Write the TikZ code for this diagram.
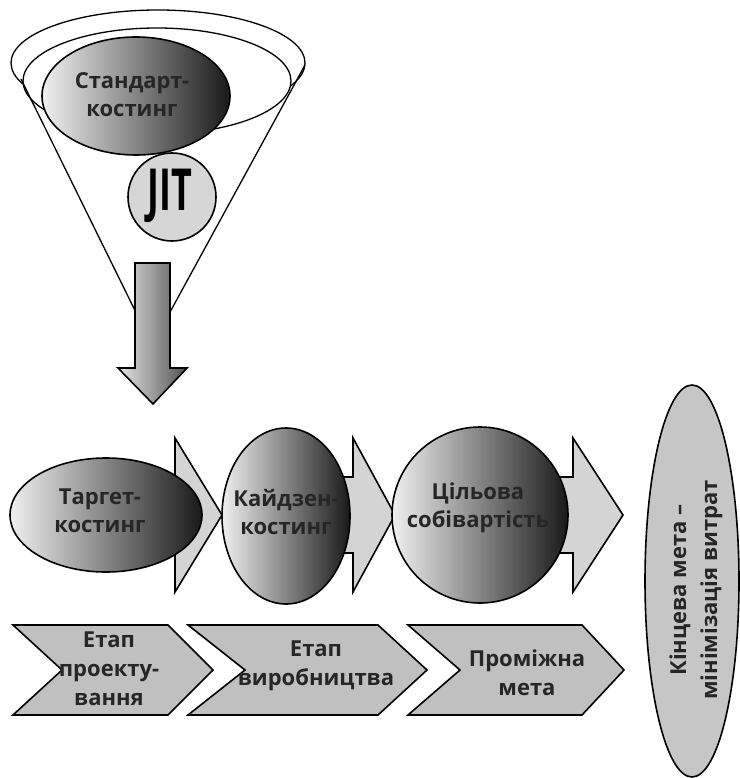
\documentclass[tikz,border=0pt]{standalone}
\usepackage{fontspec}
\usepackage{graphicx}
\setmainfont{Open Sans}
\usetikzlibrary{shapes.geometric}
\definecolor{txt}{HTML}{262626}
\definecolor{chev}{HTML}{C0C0C0}
\definecolor{arr}{HTML}{D4D4D4}
\definecolor{goal}{HTML}{C6C6C6}
\definecolor{jitc}{HTML}{D6D6D6}
\begin{document}
\begin{tikzpicture}[x=1pt,y=-1pt,
  lbl/.style={font=\fontsize{22}{28}\selectfont\bfseries, text=txt, align=center, inner sep=0pt},
  outl/.style={draw=black, line width=1.6pt},
  thin/.style={draw=black, line width=1.3pt},
  grad/.style={outl, ellipse, inner sep=0pt, left color=black!6, middle color=black!45, right color=black!90},
  blockarrow/.style={outl, fill=arr, line join=miter},
  chevron/.style={outl, fill=chev, line join=miter}
]
\useasboundingbox (0,0) rectangle (739,778);

% funnel
\node[ellipse, thin, fill=white, minimum width=294pt, minimum height=106pt] (outer) at (158,63) {};
\node[ellipse, thin, fill=white, minimum width=268pt, minimum height=106pt] (inner) at (157,81) {};
\coordinate (fl) at (21,79);
\coordinate (fr) at (305,65);
\coordinate (apex) at (152,345);
\draw[thin] (fl) -- (apex) -- (fr);

\node[grad, minimum width=188pt, minimum height=118pt] (std) at (136,96) {};
\node[lbl] (stdt) at (132,95) {Стандарт-\\костинг};

\node[circle, outl, fill=jitc, minimum size=88pt, inner sep=0pt] (jit) at (172,197) {};
\node[inner sep=0pt, text=black, font=\fontsize{58}{58}\selectfont\bfseries] (jitt) at (170,196) {\scalebox{0.62}[1]{JIT}};

% down arrow
\path[outl, line join=miter, left color=black!10, right color=black!68]
  (135,263) -- (170,263) -- (170,368) -- (187,368) -- (153,404) -- (118,368) -- (135,368) -- cycle;

% row arrows
\foreach \s/\h/\t in {110/175/222, 290/353/395, 480/573/623}
  \path[blockarrow] (\s,477) -- (\h,477) -- (\h,438) -- (\t,515) -- (\h,592) -- (\h,553) -- (\s,553) -- cycle;

\node[grad, minimum width=192pt, minimum height=114pt] (tgt) at (106,515) {};
\node[lbl] (tgtt) at (100,511) {Таргет-\\костинг};
\node[grad, minimum width=128pt, minimum height=176pt] (kai) at (286,516) {};
\node[lbl] (kait) at (286,512) {Кайдзен-\\костинг};
\node[grad, minimum width=176pt, minimum height=176pt] (cil) at (480,515) {};
\node[lbl] (cilt) at (478,508) {Цільова\\собівартість};

% final goal
\node[ellipse, outl, fill=goal, minimum width=94pt, minimum height=392pt, inner sep=0pt] (goal) at (692,581) {};
\node[lbl, rotate=90, font=\fontsize{22}{31}\selectfont\bfseries] (goalt) at (696,590) {Кінцева мета –\\мінімізація витрат};

% bottom chevrons
\path[chevron] (13,625) -- (168,625) -- (213,670) -- (168,715) -- (13,715) -- (62,670) -- cycle;
\path[chevron] (188,625) -- (378,625) -- (427,670) -- (378,715) -- (188,715) -- (245,670) -- cycle;
\path[chevron] (408,625) -- (582,625) -- (624,670) -- (582,715) -- (408,715) -- (460,670) -- cycle;
\node[lbl, font=\fontsize{22}{29}\selectfont\bfseries] (c1) at (109,669) {Етап\\проекту-\\вання};
\node[lbl, font=\fontsize{22}{29}\selectfont\bfseries] (c2) at (316,666) {Етап\\виробництва};
\node[lbl, font=\fontsize{22}{29}\selectfont\bfseries] (c3) at (527,673) {Проміжна\\мета};
\end{tikzpicture}
\end{document}
